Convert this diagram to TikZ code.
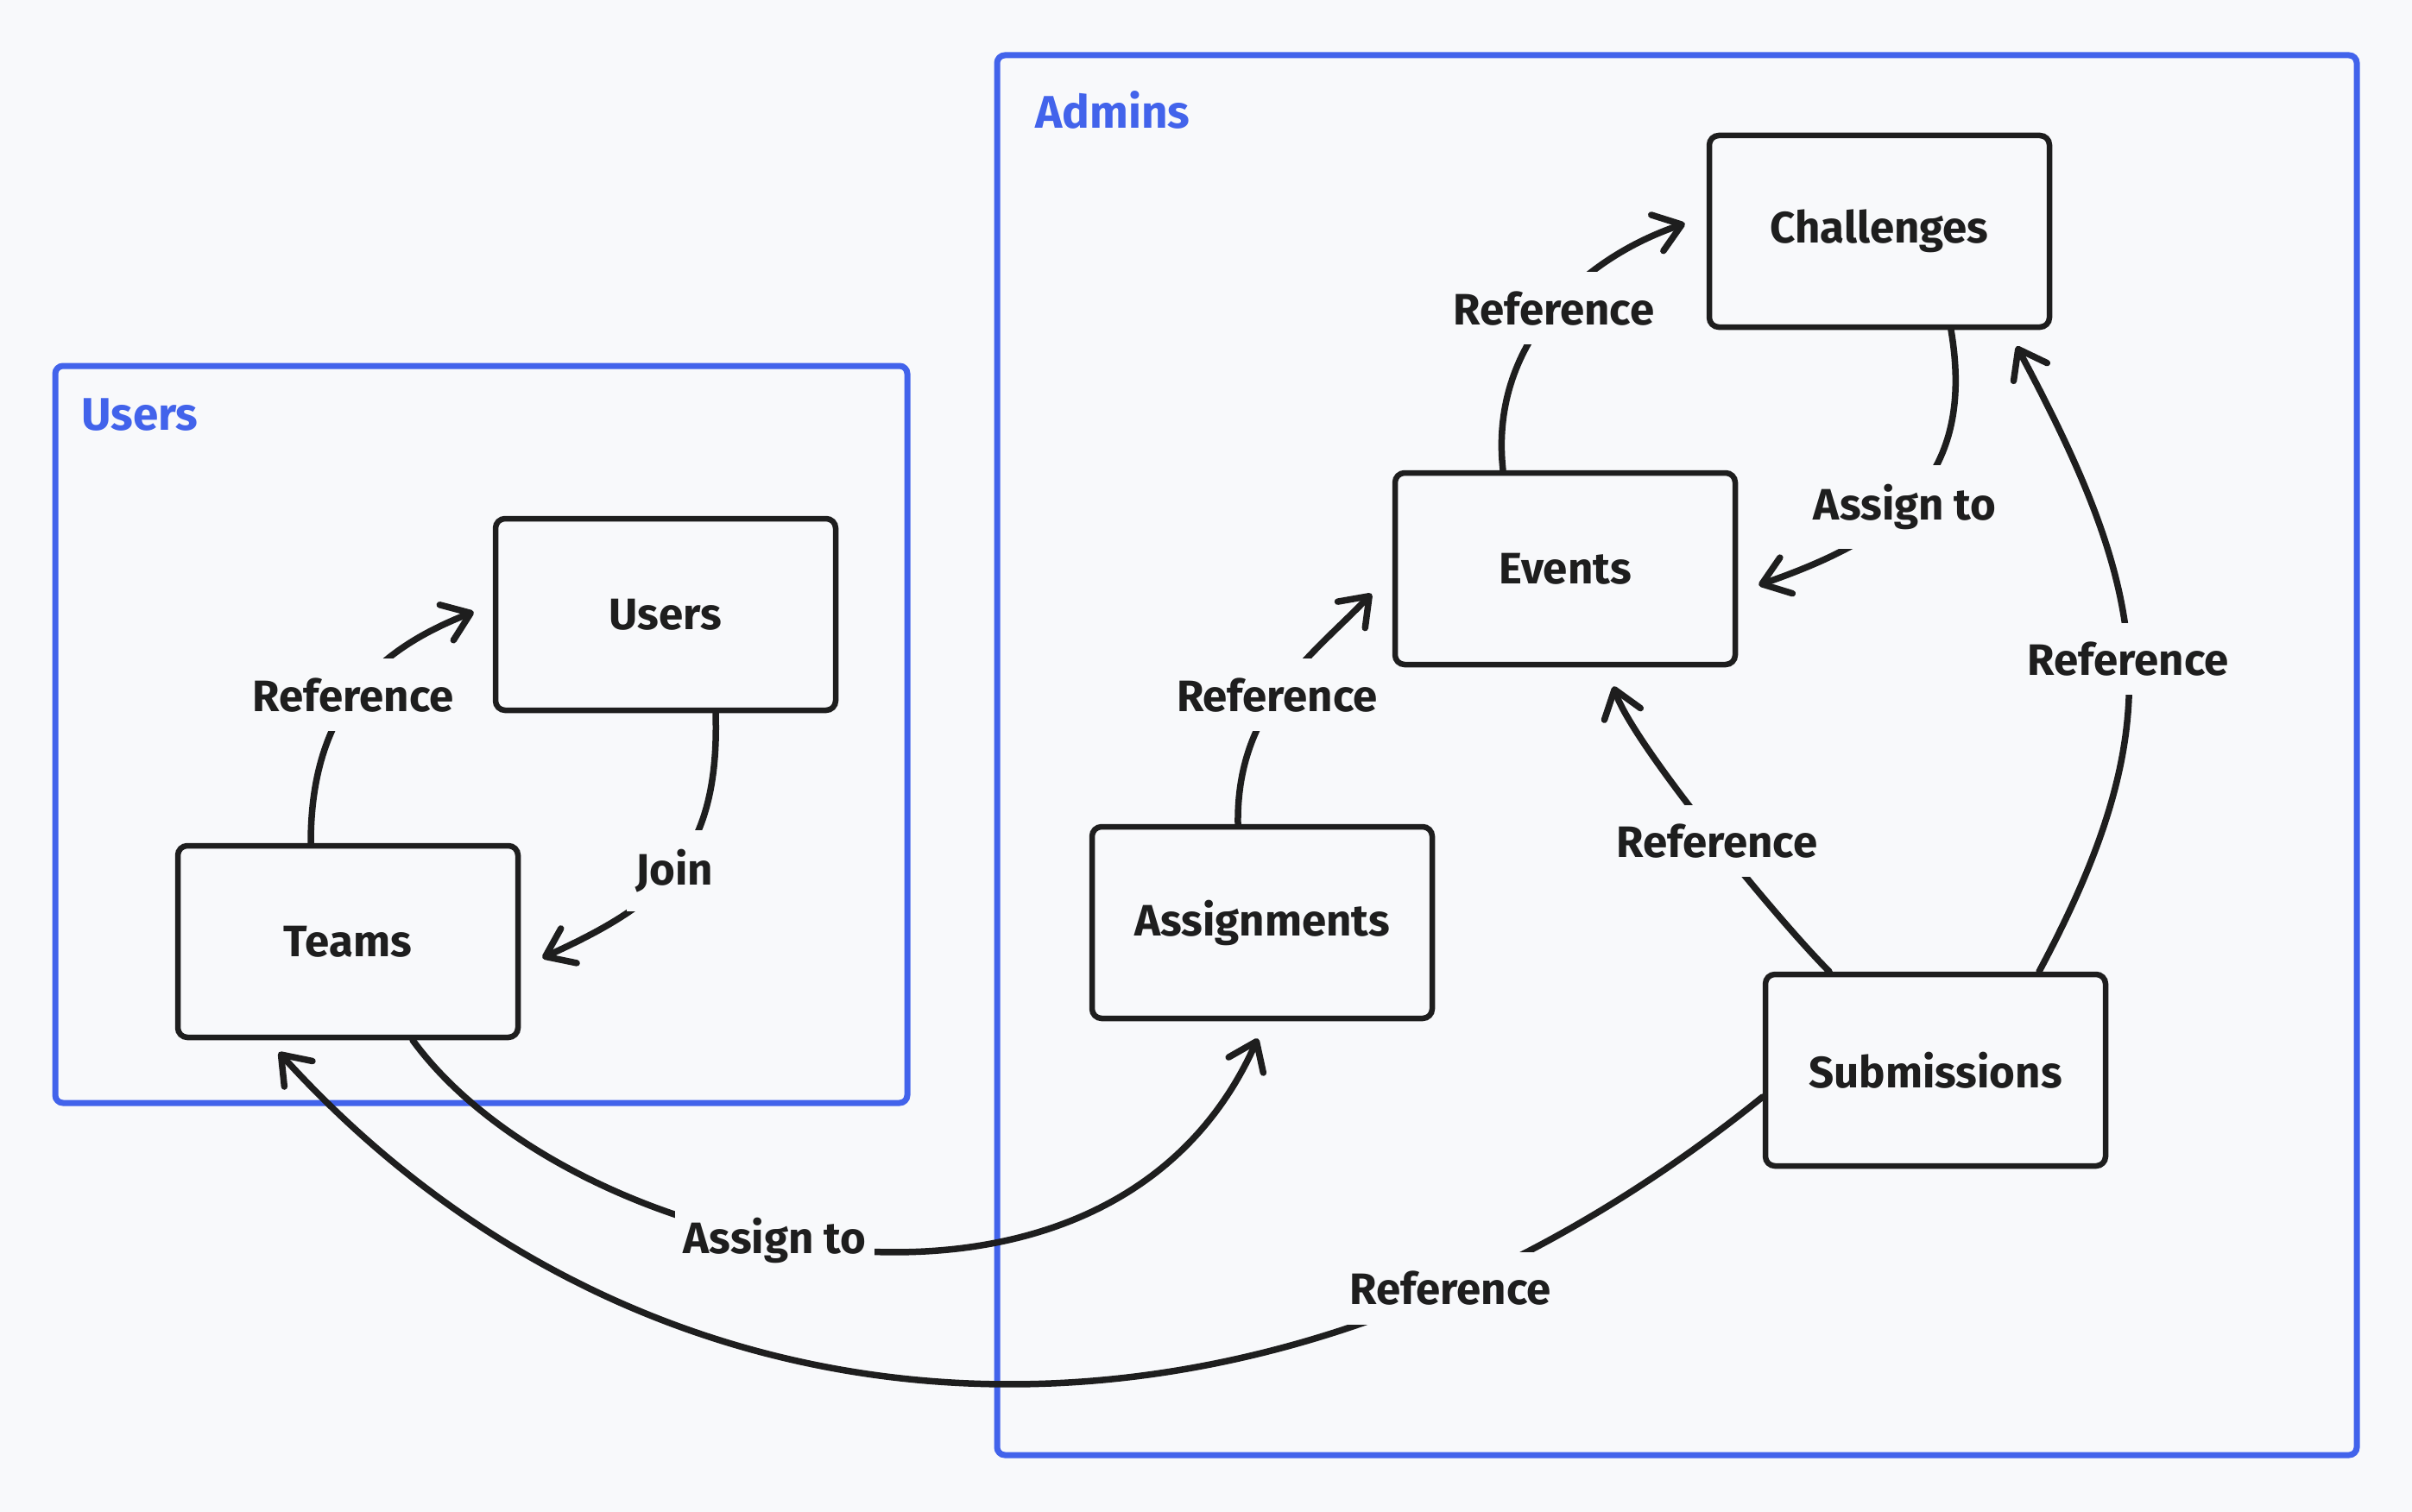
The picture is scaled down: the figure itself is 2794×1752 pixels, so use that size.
\documentclass[tikz,border=0pt]{standalone}
\usepackage{fontspec}
\setmainfont{Fira Sans}
\usetikzlibrary{arrows.meta,calc}
\definecolor{bg}{HTML}{F8F9FB}
\definecolor{grp}{HTML}{4263EB}
\definecolor{ink}{HTML}{1E1E1E}
\begin{document}
\begin{tikzpicture}[x=1pt,y=-1pt,
  box/.style={draw=ink, line width=6.5pt, rounded corners=11pt, minimum width=394pt, minimum height=222pt, fill=bg, text=ink, font=\fontsize{51}{60}\selectfont\bfseries},
  group/.style={draw=grp, line width=7pt, rounded corners=9pt, inner sep=0pt},
  grplabel/.style={text=grp, font=\fontsize{53}{62}\selectfont\bfseries, anchor=west, inner sep=0pt},
  conn/.style={draw=ink, line width=7.5pt, line cap=round, -{Straight Barb[length=30pt,width=44pt,line width=7.5pt,round]}},
  elabel/.style={fill=bg, text=ink, font=\fontsize{51}{60}\selectfont\bfseries, inner xsep=10pt, inner ysep=22pt}
]
\useasboundingbox[fill=bg] (0,0) rectangle (2794,1752);

% groups
\node[group, minimum width=987pt, minimum height=854pt] (usersgrp) at (557.5,851) {};
\node[grplabel] (usersgrplabel) at (94,481) {Users};
\node[group, minimum width=1575pt, minimum height=1622pt] (adminsgrp) at (1942.5,875) {};
\node[grplabel] (adminsgrplabel) at (1199,127) {Admins};

% entities
\node[box] (users) at (771,712) {Users};
\node[box] (teams) at (403,1091) {Teams};
\node[box] (challenges) at (2177,268) {Challenges};
\node[box] (events) at (1813,659) {Events};
\node[box] (assignments) at (1462,1069) {Assignments};
\node[box] (submissions) at (2242,1240) {Submissions};

% connectors
\draw[conn] ([xshift=-43pt]teams.north) .. controls +(0,-157) and +(-110,43) .. ([xshift=-22pt,yshift=3pt]users.west) node[elabel,pos=0.48] {Reference};
\draw[conn] ([xshift=58pt]users.south) .. controls +(5,170) and +(135,-62) .. ([xshift=25pt,yshift=-19pt]teams.east) node[elabel,pos=0.5] {Join};
\draw[conn] ([xshift=-72pt]events.north) .. controls +(-16,-145) and +(-121,41) .. ([xshift=-25pt,yshift=9pt]challenges.west) node[elabel,pos=0.52] {Reference};
\draw[conn] ([xshift=83pt]challenges.south) .. controls +(30,177) and +(152,-53) .. ([xshift=24pt,yshift=-19pt]events.east) node[elabel,pos=0.54] {Assign to};
\draw[conn] ([xshift=-28pt]assignments.north) .. controls +(-2,-135) and +(-69,72) .. ([xshift=-24pt,yshift=-29pt]events.west) node[elabel,pos=0.47] {Reference};
\draw[conn] ([xshift=-123pt]submissions.north) .. controls +(-60,-60) and +(21,65) .. ([xshift=56pt,yshift=-22pt]events.south) node[elabel,pos=0.47] {Reference};
\draw[conn] ([xshift=120pt]submissions.north) .. controls +(155,-290) and +(155,290) .. ([xshift=159pt,yshift=-19pt]challenges.south) node[elabel,pos=0.5] {Reference};
\draw[conn] ([xshift=75pt]teams.south) .. controls +(182,250) and +(-177,397) .. ([xshift=-5pt,yshift=-20pt]assignments.south) node[elabel,pos=0.44] {Assign to};
\draw[conn] ([yshift=-31pt]submissions.west) .. controls +(-585,472) and +(436,481) .. ([xshift=-80pt,yshift=-14pt]teams.south) node[elabel,pos=0.2] {Reference};
\end{tikzpicture}
\end{document}
